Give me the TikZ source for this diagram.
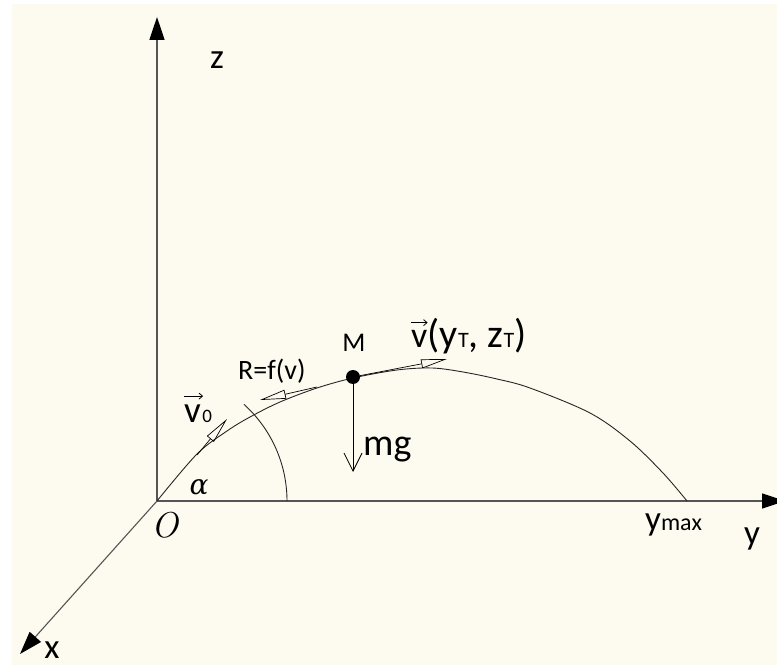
\documentclass[tikz,border=0pt]{standalone}
\usepackage{fontspec}
\setmainfont{Carlito}
\newfontfamily\lmrfont{Latin Modern Roman}
\newfontfamily\dvserif{DejaVu Serif}
\usetikzlibrary{arrows.meta}
\definecolor{bg}{HTML}{FDFBF0}
\definecolor{axiscol}{HTML}{555555}
\begin{document}
\begin{tikzpicture}[x=1pt,y=-1pt,
  axisline/.style={draw=axiscol, line width=1.6pt, -{Triangle[length=23pt,width=15pt,color=black]}},
  vecarrow/.style={draw=black, line width=0.7pt, -{Triangle[open,length=26pt,width=9pt]}},
  forcearrow/.style={draw=black, line width=0.8pt, -{Straight Barb[length=18pt,width=18pt,line width=0.8pt]}},
  overarrow/.style={draw=black, line width=0.8pt, -{Straight Barb[length=3.5pt,width=6pt,line width=0.8pt]}},
  lbl/.style={inner sep=0pt, font=\fontsize{35}{40}\selectfont},
  small/.style={inner sep=0pt, font=\fontsize{28}{32}\selectfont}]
\useasboundingbox (0,0) rectangle (777,668);
\fill[white] (0,0) rectangle (777,668);
\fill[bg] (12,4) rectangle (777,665);
% axes
\coordinate (O) at (157,501);
\coordinate (zt) at (157,17);
\coordinate (yt) at (785,501);
\coordinate (xt) at (20,654);
\draw[axisline] (O) -- (zt);
\draw[axisline] (O) -- (yt);
\draw[axisline, line width=1.1pt] (O) -- (xt);
% trajectory
\draw[line width=0.9pt, black!85] plot[smooth, tension=0.55] coordinates {
 (157,501) (197,454) (227,431) (250,417) (280,402) (317,388) (353,378)
 (397,370) (432,368) (463,372) (497,379) (530,388) (590,413) (630,441)
 (663,473) (687,501)};
% angle arc
\draw[line width=0.9pt, black!85] (287,501) arc[start angle=0, end angle=-48, radius=130];
% point M
\node[circle, fill=black, inner sep=0pt, minimum size=14pt] (M) at (353,377) {};
\coordinate (v0s) at (197,455);
\coordinate (v0e) at (227,419);
\coordinate (Rs) at (317,387);
\coordinate (Re) at (260,400);
\coordinate (ve) at (447,359);
\coordinate (mge) at (353,472);
\draw[vecarrow] (v0s) -- (v0e);
\draw[vecarrow] (Rs) -- (Re);
\draw[vecarrow] (M) -- (ve);
\draw[forcearrow] (M.center) -- (mge);
% labels
\node[lbl] (zl) at (217,60) {z};
\node[lbl] (xl) at (52,650) {x};
\node[lbl, anchor=base] (yl) at (752,544) {y};
\node[inner sep=0pt, anchor=base west] (ymax) at (645,530) {\fontsize{35}{40}\selectfont y\fontsize{24}{28}\selectfont max};
\node[inner sep=0pt, anchor=base west, font=\lmrfont\itshape\fontsize{36}{40}\selectfont] (Ol) at (151,537) {O};
\node[inner sep=0pt, font=\dvserif\itshape\fontsize{28}{32}\selectfont] (al) at (199,487) {α};
% v0 label
\node[inner sep=0pt, anchor=base west, font=\fontsize{37}{40}\selectfont] (v0v) at (184,422) {v};
\node[inner sep=0pt, anchor=base west, font=\fontsize{19}{22}\selectfont] (v0sub) at ([xshift=1pt]v0v.base east) {0};
\draw[overarrow] ([yshift=8pt]v0v.north west) -- ([yshift=8pt,xshift=2pt]v0v.north east);
\node[small, anchor=base west] (Rl) at (238,380) {R=f(v)};
\node[inner sep=0pt, anchor=base, font=\fontsize{27}{30}\selectfont] (Ml) at (354,352) {M};
\node[inner sep=0pt, anchor=base west, font=\fontsize{38}{42}\selectfont] (mgl) at (363,455) {mg};
% v(yT, zT) label
\node[inner sep=0pt, anchor=base west, font=\fontsize{36}{40}\selectfont] (vv) at (411,348) {v};
\node[inner sep=0pt, anchor=base west] (vrest) at (vv.base east) {\fontsize{40}{44}\selectfont(y\fontsize{22}{24}\selectfont T\fontsize{40}{44}\selectfont, z\fontsize{22}{24}\selectfont T\fontsize{40}{44}\selectfont)};
\draw[overarrow] ([yshift=8pt]vv.north west) -- ([yshift=8pt]vv.north east);
\end{tikzpicture}
\end{document}
